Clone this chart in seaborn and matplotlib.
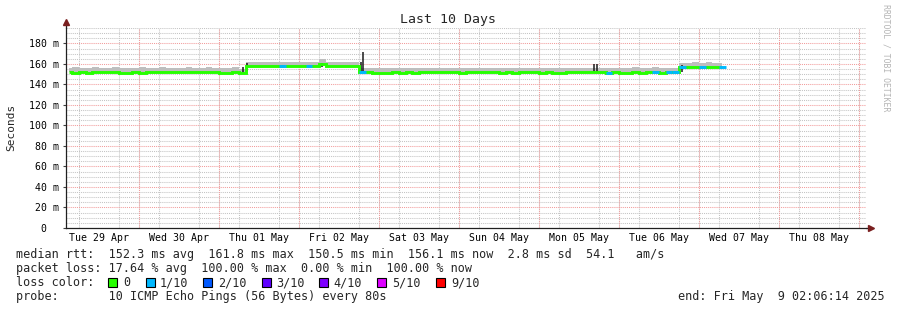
import numpy as np
import pandas as pd
import matplotlib
matplotlib.use("Agg")
import matplotlib.pyplot as plt
import matplotlib.dates as mdates
from matplotlib.patches import Rectangle
import seaborn as sns

W, H = 897, 310

# ---------------- data ----------------
range_start = "2025-04-29 02:06:14"
range_end = "2025-05-09 02:06:14"
sample_start = "2025-04-29 03:00"
sample_step = "2h"

median_ms = [
    151.8, 150.9, 151.8, 150.9, 151.8, 151.8, 151.8, 151.8, 150.9, 150.9,
    151.8, 150.9, 151.8, 151.8, 151.8, 151.8, 151.8, 151.8, 151.8, 151.8,
    151.8, 151.8, 151.8, 150.9, 150.9, 151.8, 151.2,
    158.0, 158.0, 158.0, 158.0, 158.0, 158.0, 158.0, 158.0, 158.0, 158.0,
    158.0, 160.0, 158.0, 158.0, 158.0, 158.0, 158.0,
    152.0, 151.8, 150.9, 150.9, 150.9, 151.8, 150.9, 151.8, 150.9, 151.8,
    151.8, 151.8, 151.8, 151.8, 151.8, 150.9, 151.8, 151.8, 151.8, 151.8,
    151.8, 150.9, 151.8, 150.9, 151.8, 151.8, 151.8, 150.9, 151.8, 150.9,
    150.9, 151.8, 151.8, 151.8, 151.8, 151.8, 151.8, 150.9, 151.8, 150.9,
    150.9, 151.8, 150.9, 151.8, 151.8, 150.9, 151.8, 151.8,
    157.0, 157.0, 156.8, 157.0, 157.0, 156.8, 157.0,
]

smoke_top_ms = [
    156.0, 156.5, 156.0, 156.0, 156.5, 156.0, 156.0, 156.5, 156.0, 156.0,
    156.0, 156.5, 156.0, 156.0, 156.5, 156.0, 156.0, 156.0, 156.5, 156.0,
    156.0, 156.5, 156.0, 156.0, 156.0, 156.5, 155.5,
    161.8, 162.0, 161.8, 162.3, 161.8, 162.0, 161.8, 161.8, 162.3, 161.8,
    162.0, 165.0, 161.8, 162.0, 162.3, 161.8, 162.0,
    155.8, 156.0, 155.8, 156.3, 155.8, 155.8, 156.3, 155.8, 155.8, 156.0,
    155.8, 156.3, 155.8, 155.8, 156.0, 155.8, 156.3, 155.8, 155.8, 155.8,
    156.3, 155.8, 155.8, 156.0, 155.8, 155.8, 156.3, 155.8, 155.8, 156.0,
    155.8, 155.8, 156.3, 155.8, 155.8, 156.0, 155.8, 155.8, 156.3, 155.8,
    155.8, 157.0, 155.8, 156.0, 157.0, 155.8, 156.0, 155.8,
    161.0, 161.3, 161.5, 161.3, 161.5, 161.3, 161.0,
]

loss_tenths = [
    0, 0, 0, 0, 0, 0, 0, 0, 0, 0,
    0, 0, 0, 0, 0, 0, 0, 0, 0, 0,
    0, 0, 0, 0, 0, 0, 0,
    0, 0, 0, 0, 0, 1, 0, 0, 0, 1,
    0, 0, 0, 0, 0, 0, 0,
    1, 0, 0, 0, 0, 0, 0, 0, 0, 0,
    0, 0, 0, 0, 0, 0, 0, 0, 0, 0,
    0, 0, 0, 0, 0, 0, 0, 0, 0, 0,
    0, 0, 0, 0, 0, 0, 0, 1, 0, 0,
    0, 0, 0, 0, 1, 0, 1, 1,
    1, 0, 0, 1, 0, 0, 1,
]

spike_times = ["2025-05-01 07:10", "2025-05-01 08:30", "2025-05-02 07:00",
               "2025-05-02 18:40", "2025-05-02 19:10", "2025-05-05 16:30",
               "2025-05-05 17:30", "2025-05-06 19:00"]
spike_lo_ms = [150.5, 153.5, 156.5, 151.5, 151.0, 151.0, 151.0, 152.0]
spike_hi_ms = [156.5, 160.5, 160.5, 162.0, 172.0, 160.0, 160.0, 158.5]

y_ticks = [0, 20, 40, 60, 80, 100, 120, 140, 160, 180]
y_tick_labels = ["0  ", "20 m", "40 m", "60 m", "80 m", "100 m", "120 m",
                 "140 m", "160 m", "180 m"]
day_labels = ["Tue 29 Apr", "Wed 30 Apr", "Thu 01 May", "Fri 02 May",
              "Sat 03 May", "Sun 04 May", "Mon 05 May", "Tue 06 May",
              "Wed 07 May", "Thu 08 May"]
first_noon = "2025-04-29 12:00"

loss_levels = ["0", "1/10", "2/10", "3/10", "4/10", "5/10", "9/10"]
loss_level_colors = ["#26ff00", "#00b8ff", "#0059ff", "#5e00ff", "#7e00ff",
                     "#dd00ff", "#ff0000"]
loss_color_by_tenths = {0: "#26ff00", 1: "#00b8ff", 2: "#0059ff", 3: "#5e00ff",
                        4: "#7e00ff", 5: "#dd00ff", 9: "#ff0000"}

stats_line = "median rtt:  152.3 ms avg  161.8 ms max  150.5 ms min  156.1 ms now  2.8 ms sd  54.1   am/s"
loss_line = "packet loss: 17.64 % avg  100.00 % max  0.00 % min  100.00 % now"
probe_line = "probe:       10 ICMP Echo Pings (56 Bytes) every 80s"
end_line = "end: Fri May  9 02:06:14 2025"

# ---------------- figure ----------------
sns.set_style("white")
plt.rcParams["font.family"] = ["DejaVu Sans Mono", "DejaVu Sans"]

fig = plt.figure(figsize=(W / 100, H / 100), dpi=100, facecolor="white")
ax = fig.add_axes([66 / W, (H - 228) / H, 800 / W, 200 / H])
ax.set_facecolor("white")

times = pd.date_range(sample_start, periods=len(median_ms), freq=sample_step)
t0, t1 = pd.Timestamp(range_start), pd.Timestamp(range_end)
med = np.array(median_ms)
half = pd.Timedelta(sample_step) / 2

# grid
minor_grid = "#C4C4C4"
major_grid = "#F29C9C"
dot = (0, (1, 1))
ax.set_xlim(t0, t1)
ax.set_ylim(0, 195)
ax.xaxis.set_minor_locator(mdates.HourLocator(byhour=[0, 6, 12, 18]))
ax.yaxis.set_minor_locator(matplotlib.ticker.MultipleLocator(5))
ax.grid(False)
ax.grid(True, which="minor", color=minor_grid, lw=0.75, linestyle=dot)
for d in pd.date_range("2025-04-30", "2025-05-09", freq="D"):
    ax.axvline(d, color=major_grid, lw=0.75, linestyle=dot, zorder=0.6)
for yv in y_ticks[1:]:
    ax.axhline(yv, color=major_grid, lw=0.75, linestyle=dot, zorder=0.6)
ax.set_axisbelow(True)

# smoke
ax.fill_between(times, med, smoke_top_ms, step="mid", color="#BEBEBE", lw=0, zorder=2)

# dark spikes
ax.vlines(pd.to_datetime(spike_times), spike_lo_ms, spike_hi_ms,
          colors="#1a1a1a", lw=1.1, zorder=3)

# median line
sns.lineplot(x=times, y=med, drawstyle="steps-mid", color="#26ff00", lw=2.1,
             ax=ax, zorder=4, solid_capstyle="butt", solid_joinstyle="miter")
for t, m, l in zip(times, med, loss_tenths):
    if l > 0:
        ax.hlines(m, t - half, t + half, colors=loss_color_by_tenths[l], lw=2.1,
                  zorder=5, capstyle="butt")

# ticks
noons = pd.date_range(first_noon, periods=len(day_labels), freq="D")
ax.set_xticks(noons, day_labels)
ax.set_yticks(y_ticks, y_tick_labels)
ax.tick_params(axis="x", which="major", length=0, pad=3.5, labelsize=7.1, colors="black")
ax.tick_params(axis="x", which="minor", length=0)
ax.tick_params(axis="y", which="major", length=2, width=0.8, pad=3, labelsize=7.1,
               color="#404040", labelcolor="black", left=True)
ax.tick_params(axis="y", which="minor", length=0)
ax.set_xlabel("")
ax.set_ylabel("")

for s in ["top", "right"]:
    ax.spines[s].set_visible(False)
for s in ["left", "bottom"]:
    ax.spines[s].set_color("#202020")
    ax.spines[s].set_linewidth(0.9)

# axis extensions and arrows
arrow_c = "#7a1f1f"
ax.plot([0, 0], [1, 1.02], transform=ax.transAxes, color="#202020", lw=0.9, clip_on=False)
ax.plot([1, 1.004], [0, 0], transform=ax.transAxes, color="#202020", lw=0.9, clip_on=False)
ax.plot([0], [1.03], marker="^", ms=4.5, color=arrow_c, transform=ax.transAxes, clip_on=False)
ax.plot([1.006], [0], marker=">", ms=4.5, color=arrow_c, transform=ax.transAxes, clip_on=False)

# texts
def px(x, y):
    return x / W, 1 - y / H

fig.text(*px(448, 19), "Last 10 Days", ha="center", va="center", fontsize=9.5)
fig.text(*px(11, 127), "Seconds", ha="center", va="center", rotation=90, fontsize=8)
fig.text(*px(886, 4), "RRDTOOL / TOBI OETIKER", ha="center", va="top",
         rotation=270, fontsize=5.9, color="#B4B4B4")

fs = 8.5
fig.text(*px(16, 258), stats_line, ha="left", va="baseline", fontsize=fs)
fig.text(*px(16, 272), loss_line, ha="left", va="baseline", fontsize=fs)
fig.text(*px(16, 286), "loss color:", ha="left", va="baseline", fontsize=fs)
fig.text(*px(16, 300), probe_line, ha="left", va="baseline", fontsize=fs)
fig.text(*px(678, 300), end_line, ha="left", va="baseline", fontsize=fs)

square_x = [108, 146, 203, 262, 319, 377, 436]
label_x = [123, 160, 218, 276, 333, 392, 451]
for sx, lx, lab, col in zip(square_x, label_x, loss_levels, loss_level_colors):
    fig.add_artist(Rectangle(px(sx, 287), 9 / W, 9 / H, transform=fig.transFigure,
                             facecolor=col, edgecolor="black", lw=0.8))
    fig.text(*px(lx, 286), lab, ha="left", va="baseline", fontsize=fs)

fig.savefig("out.png", dpi=100, facecolor="white")
